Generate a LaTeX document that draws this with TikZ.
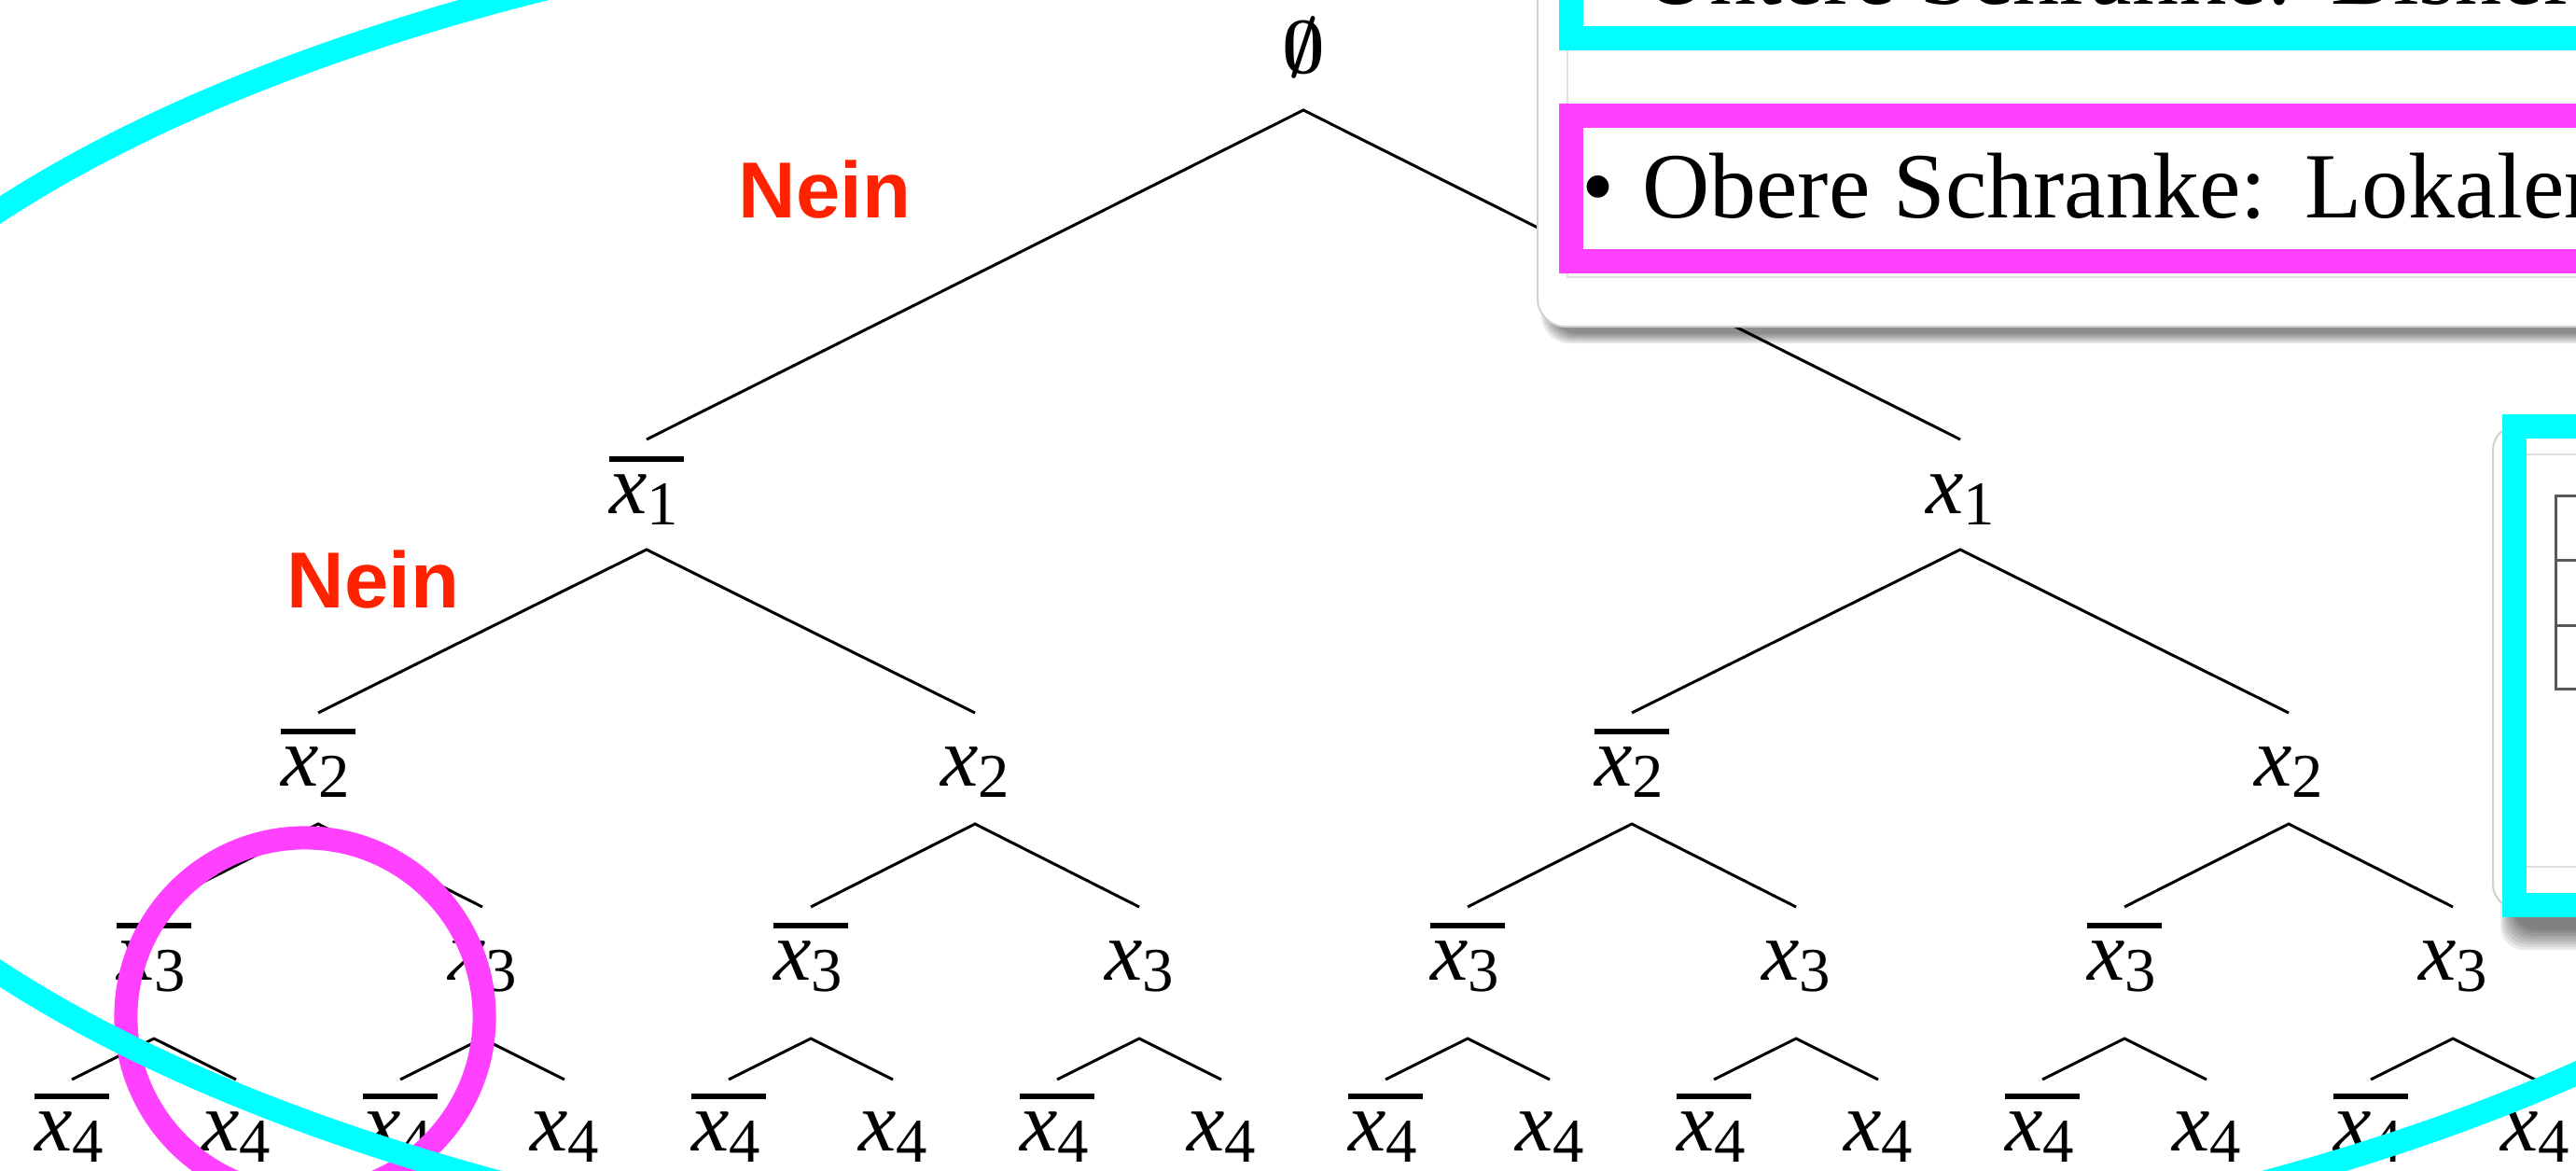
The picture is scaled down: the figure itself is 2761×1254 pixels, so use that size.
\RequirePackage{fix-cm}
\documentclass[tikz,border=0pt]{standalone}
\usepackage{bm}
\usepackage{fontspec}
\setmainfont{Liberation Serif}
\newfontfamily\neinfont{Liberation Sans}
\definecolor{cyanc}{HTML}{00FFFF}
\definecolor{magc}{HTML}{FF40FF}
\definecolor{neinred}{HTML}{FF2200}
\newcommand{\xs}[1]{\textit{x}\raisebox{-0.12cm}{\fontsize{19pt}{19pt}\selectfont #1}}
\newcommand{\xb}[1]{\vbox{\hrule height 0.06cm\kern0.13cm\hbox{\xs{#1}\kern0.06cm}}}
\begin{document}
\begin{tikzpicture}[x=0.01cm,y=-0.01cm,
  lab/.style={inner sep=0pt,outer sep=0pt,anchor=base,font=\fontsize{25.9pt}{30pt}\selectfont},
  lvroot/.style={lab,text height=0.6cm,text depth=0.40cm,font=\fontsize{22.6pt}{26pt}\selectfont},
  lvA/.style={lab,text height=0.79cm,text depth=0.39cm},
  lvB/.style={lab,text height=0.78cm,text depth=0.41cm},
  lvC/.style={lab,text height=0.78cm,text depth=0.63cm},
  lvD/.style={lab,text height=0.76cm,text depth=0.2cm},
  edge/.style={line width=0.03cm,black},
  nein/.style={text=neinred,font=\neinfont\bfseries\fontsize{24.2pt}{28pt}\selectfont,anchor=base,inner sep=0pt},
  poptext/.style={anchor=base west,inner sep=0pt,outer sep=0pt,font=\fontsize{28.45pt}{34pt}\selectfont},
  ring/.style={line width=0.25cm},
  boxline/.style={line width=0.26cm},
  panel/.style={fill=white,draw=black!18,line width=0.02cm},
  thinline/.style={black!12,line width=0.02cm},
  tabline/.style={black!65,line width=0.03cm}
]
\useasboundingbox (0,0) rectangle (2761,1254);
\clip (0,0) rectangle (2761,1254);
\fill[white] (0,0) rectangle (2761,1254);

% ---- tree nodes
\node[lvroot] (r) at (1397,78) {$\bm{\emptyset}$};
\node[lvA] (a0) at (693,550) {\xb{1}};
\node[lvA] (a1) at (2101,550) {\xs{1}};
\foreach \i in {0,...,3}{
  \pgfmathsetmacro\xx{341+704*\i}
  \node[lvB] (b\i) at (\xx,842) {\ifodd\i\xs{2}\else\xb{2}\fi};
}
\foreach \i in {0,...,7}{
  \pgfmathsetmacro\xx{165+352*\i}
  \node[lvC] (c\i) at (\xx,1050) {\ifodd\i\xs{3}\else\xb{3}\fi};
}
\foreach \i in {0,...,15}{
  \pgfmathsetmacro\xx{77+176*\i}
  \node[lvD] (d\i) at (\xx,1233) {\ifodd\i\xs{4}\else\xb{4}\fi};
}

% ---- tree edges
\draw[edge] (a0.north) -- (r.south) -- (a1.north);
\foreach \i in {0,1}{
  \pgfmathtruncatemacro\ja{2*\i}\pgfmathtruncatemacro\jb{2*\i+1}
  \draw[edge] (b\ja.north) -- (a\i.south) -- (b\jb.north);
}
\foreach \i in {0,...,3}{
  \pgfmathtruncatemacro\ja{2*\i}\pgfmathtruncatemacro\jb{2*\i+1}
  \draw[edge] (c\ja.north) -- (b\i.south) -- (c\jb.north);
}
\foreach \i in {0,...,7}{
  \pgfmathtruncatemacro\ja{2*\i}\pgfmathtruncatemacro\jb{2*\i+1}
  \draw[edge] (d\ja.north) -- (c\i.south) -- (d\jb.north);
}

% ---- Nein labels
\node[nein] (nein1) at (884,233) {Nein};
\node[nein] (nein2) at (400,651) {Nein};

% ---- highlight rings
\draw[magc,ring] (327,1090) circle [radius=1.92cm];
\draw[cyanc,ring] (1481,634) ellipse [x radius=17.66cm,y radius=7.49cm];

% ---- popup 1
\foreach \k in {0,...,5}{
  \fill[black,opacity=0.09,rounded corners=0.3cm] ({1652+2*\k},-100) rectangle (2900,{368-2*\k});
}
\filldraw[panel,rounded corners=0.3cm] (1648,-100) rectangle (2900,350);
\draw[thinline] (1680,-100) -- (1680,297) -- (2900,297);
\draw[cyanc,boxline] (1683.5,-100) rectangle (2900,41);
\draw[magc,boxline] (1683.5,124) rectangle (2900,280);
\node[poptext] (t1) at (1695,4) {•\hspace{0.3cm}Untere Schranke:\hspace{0.41cm}Bisher};
\node[poptext] (t2) at (1695,233) {•\hspace{0.3cm}Obere Schranke:\hspace{0.41cm}Lokaler};

% ---- popup 2
\foreach \k in {0,...,7}{
  \fill[black,opacity=0.08,rounded corners=0.25cm] ({2680+2*\k},{470+2*\k}) rectangle (2900,{1018-3*\k});
}
\filldraw[panel,rounded corners=0.25cm] (2672,457) rectangle (2900,973);
\draw[thinline] (2708,487) -- (2900,487);
\draw[thinline] (2708,929) -- (2900,929);
\draw[cyanc,boxline] (2695,456.5) rectangle (2900,969.5);
\draw[tabline] (2900,531) -- (2739,531) -- (2739,738) -- (2900,738);
\draw[tabline] (2739,600) -- (2900,600);
\draw[tabline] (2739,670) -- (2900,670);
\end{tikzpicture}
\end{document}
